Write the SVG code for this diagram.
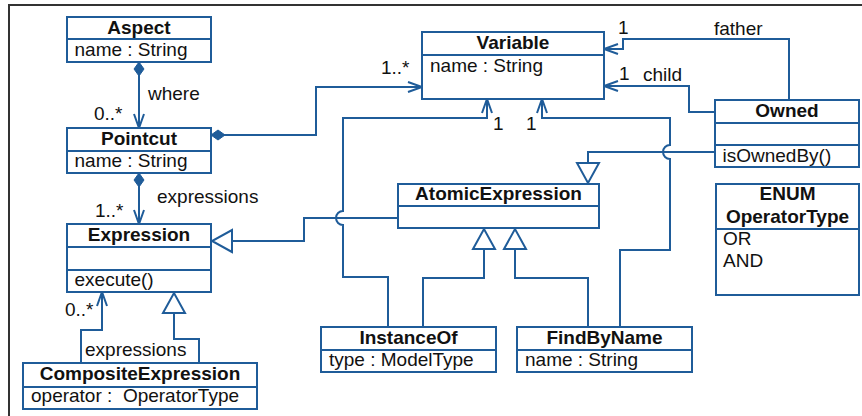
<svg xmlns="http://www.w3.org/2000/svg" width="862" height="416" viewBox="0 0 862 416">
<style>
.box{fill:#fff;stroke:#1f5c99;stroke-width:2}
.div{stroke:#1f5c99;stroke-width:2;fill:none}
.c{fill:none;stroke:#1f5c99;stroke-width:2}
text{font-family:"Liberation Sans",Arial,Helvetica,sans-serif;font-size:19px;fill:#111}
.t{font-weight:bold;text-anchor:middle}
.pre{white-space:pre}
</style>
<defs>
<marker id="arr" markerUnits="userSpaceOnUse" markerWidth="20" markerHeight="14" refX="0" refY="0" viewBox="-16 -7 20 14" orient="auto" overflow="visible">
<path d="M-14,-5 L0,0 L-14,5" fill="none" stroke="#1f5c99" stroke-width="2"/>
</marker>
<marker id="dia" markerUnits="userSpaceOnUse" markerWidth="20" markerHeight="14" refX="0" refY="0" viewBox="0 -7 20 14" orient="auto" overflow="visible">
<path d="M0,0 L7,-5 L14,0 L7,5 Z" fill="#1f5c99" stroke="#1f5c99" stroke-width="1"/>
</marker>
<marker id="tri" markerUnits="userSpaceOnUse" markerWidth="26" markerHeight="26" refX="0" refY="0" viewBox="-22 -13 26 26" orient="auto" overflow="visible">
<path d="M-20,-11 L0,0 L-20,11 Z" fill="#fff" stroke="#1f5c99" stroke-width="2"/>
</marker>
</defs>
<path d="M9,417 V5 H863" fill="none" stroke="#333" stroke-width="2"/>
<g id="connectors">
<path class="c" d="M139,62 V128" marker-start="url(#dia)" marker-end="url(#arr)"/>
<path class="c" d="M211,135 H316 V87 H422" marker-start="url(#dia)" marker-end="url(#arr)"/>
<path class="c" d="M139,173 V224" marker-start="url(#dia)" marker-end="url(#arr)"/>
<path class="c" d="M398,218 H304 V241 H212" marker-end="url(#tri)"/>
<path class="c" d="M388,327 V277 H343 V225 A7,7 0 0 1 343,211 V118 H487 V99" marker-end="url(#arr)"/>
<path class="c" d="M620,327 V250 H670 V159 A7,7 0 0 1 670,145 V118 H542 V99" marker-end="url(#arr)"/>
<path class="c" d="M789,100 V39 H623 V49 H604" marker-end="url(#arr)"/>
<path class="c" d="M715,112 H689 V86 H604" marker-end="url(#arr)"/>
<path class="c" d="M715,152 H588 V183" marker-end="url(#tri)"/>
<path class="c" d="M423,327 V278 H484 V229" marker-end="url(#tri)"/>
<path class="c" d="M588,327 V278 H515 V229" marker-end="url(#tri)"/>
<path class="c" d="M81,363 V330 H102 V292" marker-end="url(#arr)"/>
<path class="c" d="M199,363 V339 H174 V293" marker-end="url(#tri)"/>
<text x="148" y="100">where</text>
<text x="94" y="120">0..*</text>
<text x="381" y="74">1..*</text>
<text x="157" y="203">expressions</text>
<text x="95" y="217">1..*</text>
<text x="493" y="130">1</text>
<text x="526" y="130">1</text>
<text x="714" y="35">father</text>
<text x="618" y="34">1</text>
<text x="643" y="81">child</text>
<text x="619" y="80">1</text>
<text x="65" y="316">0..*</text>
<text x="85" y="356">expressions</text>
</g>
<g id="Aspect">
<rect class="box" x="67" y="17" width="144" height="45"/>
<path class="div" d="M67,39 H211"/>
<text class="t" x="139" y="34">Aspect</text>
<text x="74.5" y="56">name : String</text>
</g>
<g id="Pointcut">
<rect class="box" x="67" y="128" width="144" height="45"/>
<path class="div" d="M67,151 H211"/>
<text class="t" x="139" y="145">Pointcut</text>
<text x="74.5" y="167">name : String</text>
</g>
<g id="Variable">
<rect class="box" x="422" y="32" width="182" height="67"/>
<path class="div" d="M422,55 H604"/>
<text class="t" x="513" y="48.5">Variable</text>
<text x="430" y="72">name : String</text>
</g>
<g id="Owned">
<rect class="box" x="715" y="100" width="144" height="67"/>
<path class="div" d="M715,123 H859 M715,145 H859"/>
<text class="t" x="787" y="117">Owned</text>
<text x="722.5" y="162">isOwnedBy()</text>
</g>
<g id="AtomicExpression">
<rect class="box" x="398" y="184" width="201" height="44"/>
<path class="div" d="M398,206 H599"/>
<text class="t" x="498.5" y="200">AtomicExpression</text>
</g>
<g id="OperatorType">
<rect class="box" x="716" y="184" width="143" height="111"/>
<path class="div" d="M716,229 H859"/>
<text class="t" x="787.5" y="200">ENUM</text>
<text class="t" x="787.5" y="222.5">OperatorType</text>
<text x="723" y="245">OR</text>
<text x="723" y="267">AND</text>
</g>
<g id="Expression">
<rect class="box" x="67" y="224" width="144" height="68"/>
<path class="div" d="M67,247 H211 M67,270 H211"/>
<text class="t" x="139" y="241">Expression</text>
<text x="74.5" y="286">execute()</text>
</g>
<g id="InstanceOf">
<rect class="box" x="321" y="327" width="175" height="45"/>
<path class="div" d="M321,350 H496"/>
<text class="t" x="408.5" y="344">InstanceOf</text>
<text x="329" y="366">type : ModelType</text>
</g>
<g id="FindByName">
<rect class="box" x="517" y="327" width="175" height="45"/>
<path class="div" d="M517,350 H692"/>
<text class="t" x="604.5" y="344">FindByName</text>
<text x="525" y="366">name : String</text>
</g>
<g id="CompositeExpression">
<rect class="box" x="23" y="363" width="234" height="46"/>
<path class="div" d="M23,387 H257"/>
<text class="t" x="140" y="380">CompositeExpression</text>
<text class="pre" x="31" y="402" xml:space="preserve">operator :  OperatorType</text>
</g>
</svg>
